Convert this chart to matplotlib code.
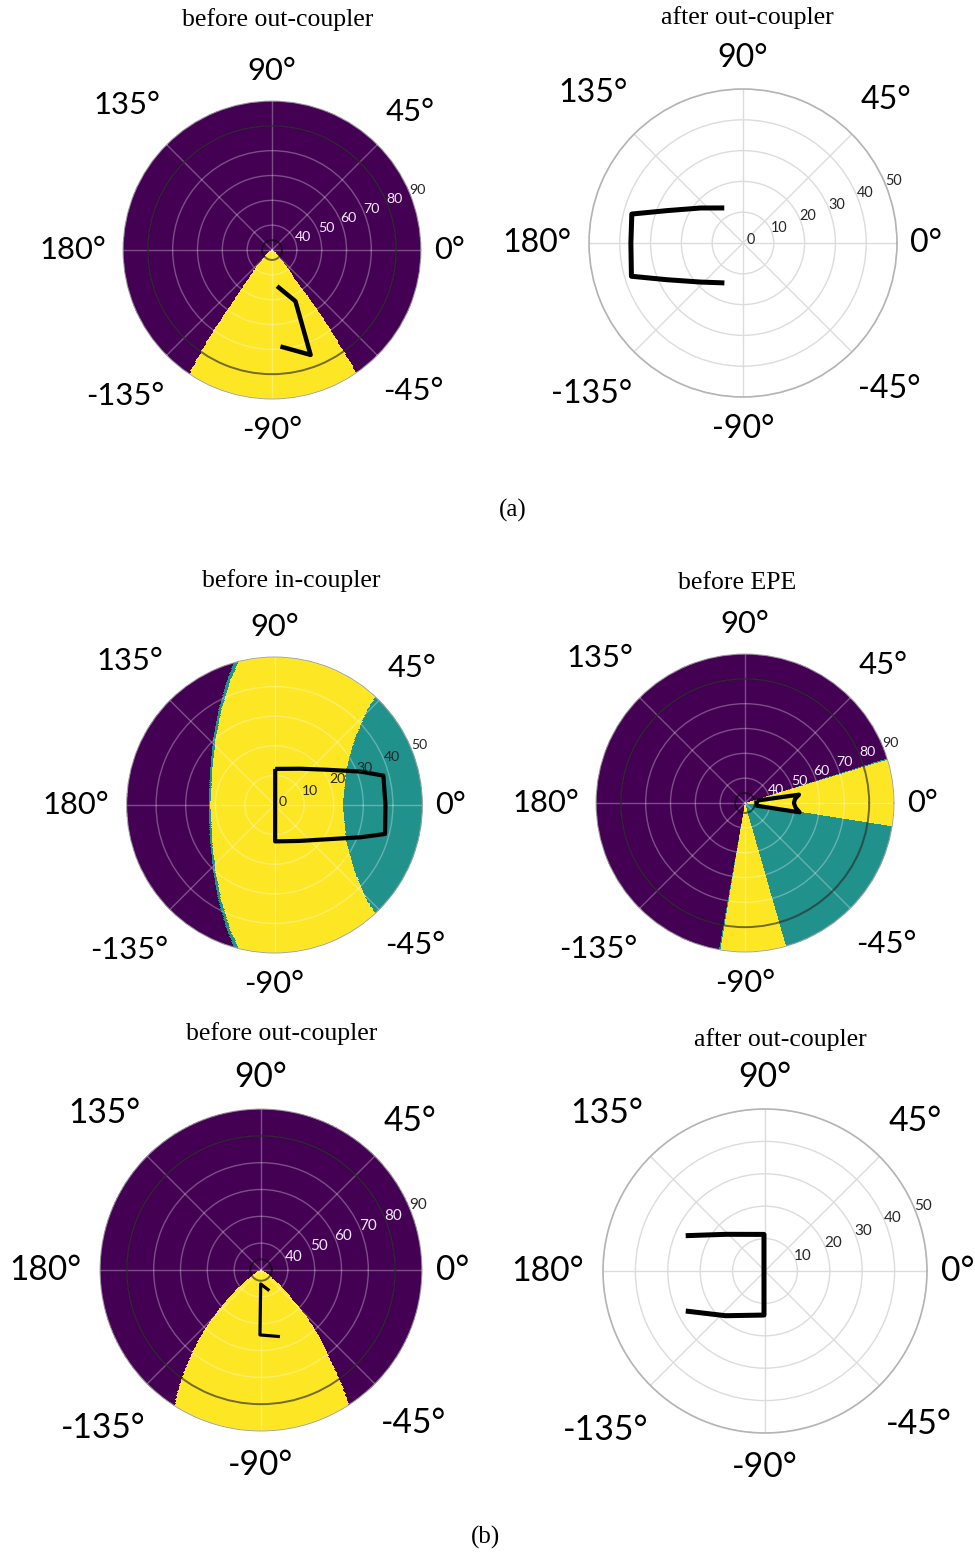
import numpy as np
import matplotlib
matplotlib.use("Agg")
from matplotlib import pyplot as plt
from matplotlib import transforms

W, H = 975, 1553

# azimuth labels round every dial
dial_angles = [0, 45, 90, 135, 180, -135, -90, -45]
dial_labels = ["0°", "45°", "90°", "135°", "180°", "-135°", "-90°", "-45°"]

# viridis codes: 0 purple, 1 teal, 2 yellow
# (a) before out-coupler: yellow wedge edges (deg) vs polar angle
a_before_r = [30, 35, 45, 58, 73, 90]
a_before_left = [-150, -135, -129, -126.7, -125.6, -123.6]
a_before_right = [-30, -45, -51.5, -52.5, -54, -55.5]
a_before_fov_t = [-82, -65.4, -69.8, -85]
a_before_fov_r = [44.7, 52.7, 75.0, 69.0]

# (a) after out-coupler
a_after_fov_t = [118.1, 140.6, 156.9, 165.4, 180, -163.4, -154.2, -137.6, -115]
a_after_fov_r = [12.9, 17.9, 26.8, 37.3, 36.4, 37.8, 27.4, 18.8, 14.3]

# (b) before in-coupler: region edges as x (deg) at height y (deg) on the dial
b_in_y = [-52, -42, -32, -22, -12, 0, 12, 22, 32, 42, 52]
b_in_purple_x = [-12.0, -16.2, -19.0, -20.8, -21.8, -22.3, -21.8, -20.8, -19.0, -16.2, -12.0]
b_in_strip_x = [-10.6, -15.0, -18.1, -20.0, -21.1, -21.6, -21.1, -20.0, -18.1, -15.0, -10.6]
b_in_teal_x = [44.5, 37.5, 31.2, 27.0, 24.3, 23.1, 24.3, 27.0, 31.2, 37.5, 44.5]
b_in_fov_t = [88.9, 54.8, 34.0, 21.3, 15.1, 0, -14.7, -20.7, -33.3, -54.5, -89, 88.9]
b_in_fov_r = [12.2, 15.0, 21.3, 31.1, 38.1, 37.5, 38.6, 30.9, 21.1, 14.9, 12.3, 12.2]

# (b) before EPE: wedge edges (deg) and the code between them
b_epe_edges = [-100, -99.5, -74, -9, 17, 17.5]
b_epe_codes = [0, 1, 2, 1, 2, 1, 0]
b_epe_fov_t = [11.3, 8.8, 4.5, 0, -5, -9.7, -12.9, 11.3]
b_epe_fov_r = [34.8, 52.0, 50.2, 49.7, 50.4, 52.3, 34.8, 34.8]

# (b) before out-coupler
c_before_r = [30, 35, 46, 59, 72, 90]
c_before_left = [-160, -145, -138.8, -133.8, -129, -122.5]
c_before_right = [-20, -35, -42.9, -47.3, -52.2, -56.8]
c_before_fov_t = [-68, -91.4, -90.9, -74.1]
c_before_fov_r = [38.3, 35.2, 54.2, 55.8]

# (b) after out-coupler
c_after_fov_t = [156, 137, 91.6, -91.3, -131.4, -153.2]
c_after_fov_r = [26.8, 16.6, 11.3, 13.6, 18.4, 27.4]

label_dist = [1.19, 1.31, 1.20, 1.38, 1.34, 1.39, 1.21, 1.34]
SANS = ["Lato", "DejaVu Sans"]
SERIF = ["Liberation Serif", "DejaVu Serif"]

fig = plt.figure(figsize=(W / 100, H / 100), dpi=100)


def cell_centres(rmin, rmax):
    t = np.linspace(-180, 180, 721)
    r = np.linspace(rmin, rmax, 241)
    tc = (t[:-1] + t[1:]) / 2
    rc = (r[:-1] + r[1:]) / 2
    TC, RC = np.meshgrid(tc, rc)
    T, R = np.meshgrid(np.deg2rad(t), r)
    return T, R, TC, RC


def wedge_map(rmin, rmax, rr, left, right):
    T, R, TC, RC = cell_centres(rmin, rmax)
    lo = np.interp(RC, rr, left)
    hi = np.interp(RC, rr, right)
    Z = np.where((TC > lo) & (TC < hi), 2, 0)
    return T, R, Z


def in_coupler_map():
    T, R, TC, RC = cell_centres(0, 50)
    x = RC * np.cos(np.deg2rad(TC))
    y = RC * np.sin(np.deg2rad(TC))
    Z = np.full(TC.shape, 2)
    Z[x < np.interp(y, b_in_y, b_in_strip_x)] = 1
    Z[x < np.interp(y, b_in_y, b_in_purple_x)] = 0
    Z[x > np.interp(y, b_in_y, b_in_teal_x)] = 1
    return T, R, Z


def epe_map():
    T, R, TC, RC = cell_centres(30, 90)
    Z = np.array(b_epe_codes)[np.digitize(TC, b_epe_edges)]
    return T, R, Z


def dial(cx, cy, rad, rmin, rmax, rticks, title, title_xy, mesh=None,
         fov=None, lw=3.0):
    ax = fig.add_axes([(cx - rad) / W, 1 - (cy + rad) / H, 2 * rad / W, 2 * rad / H],
                      projection="polar")
    ax.set_ylim(rmin, rmax)
    ax.set_xticks(np.deg2rad(np.arange(0, 360, 45)))
    ax.set_xticklabels([])
    ax.set_yticks(rticks)
    ax.set_yticklabels([])
    ax.tick_params(length=0)
    if mesh is not None:
        T, R, Z = mesh
        ax.pcolormesh(T, R, Z, cmap="viridis", vmin=0, vmax=2, shading="flat",
                      antialiased=False, zorder=0.5)
        ax.grid(True, color="white", alpha=0.3, lw=1.0)
        ax.spines["polar"].set_color("#9a9a9a")
        ax.spines["polar"].set_linewidth(0.6)
    else:
        ax.grid(True, color="#dcdcdc", lw=1.0)
        ax.spines["polar"].set_color("#b4b4b4")
        ax.spines["polar"].set_linewidth(1.2)
    if mesh is not None and rmin == 30:
        for ring in (34, 80):
            ax.axhline(ring, color="black", alpha=0.55, lw=1.4, zorder=1.8)

    # radial labels along 22.5 deg
    off = transforms.offset_copy(ax.transData, fig=fig, x=8, y=3, units="dots")
    for rv in rticks:
        if mesh is not None and rmin == 30 and rv < rmax:
            col = "#f2ecf7"
        else:
            col = "#262626"
        ax.text(np.deg2rad(22.5), rv, str(rv), transform=off, ha="center",
                va="center", fontsize=0.068 * rad, color=col, family=SANS,
                zorder=3)

    fs = 0.15 * rad
    for a, lab, f in zip(dial_angles, dial_labels, label_dist):
        t = np.deg2rad(a)
        ax.text(0.5 + 0.5 * f * np.cos(t), 0.5 + 0.5 * f * np.sin(t), lab,
                transform=ax.transAxes, ha="center", va="center", fontsize=fs,
                family=SANS, color="black")

    if fov is not None:
        ax.plot(np.deg2rad(fov[0]), fov[1], color="black", lw=lw,
                solid_joinstyle="round", solid_capstyle="butt", zorder=2.5)

    fig.text(title_xy[0] / W, 1 - title_xy[1] / H, title, ha="center", va="center",
             fontsize=18.5, family=SERIF)
    return ax


dial(272, 250, 149, 30, 90, [40, 50, 60, 70, 80, 90], "before out-coupler", (278, 20),
     mesh=wedge_map(30, 90, a_before_r, a_before_left, a_before_right),
     fov=(a_before_fov_t, a_before_fov_r), lw=3.2)
dial(743, 243, 154, 0, 50, [0, 10, 20, 30, 40, 50], "after out-coupler", (747, 18),
     fov=(a_after_fov_t, a_after_fov_r), lw=3.6)
dial(274.5, 805, 148, 0, 50, [0, 10, 20, 30, 40, 50], "before in-coupler", (291, 581),
     mesh=in_coupler_map(), fov=(b_in_fov_t, b_in_fov_r), lw=3.0)
dial(745, 803, 149, 30, 90, [40, 50, 60, 70, 80, 90], "before EPE", (737, 583),
     mesh=epe_map(), fov=(b_epe_fov_t, b_epe_fov_r), lw=3.0)
dial(261, 1270, 161, 30, 90, [40, 50, 60, 70, 80, 90], "before out-coupler", (282, 1034),
     mesh=wedge_map(30, 90, c_before_r, c_before_left, c_before_right),
     fov=(c_before_fov_t, c_before_fov_r), lw=2.3)
dial(765, 1271, 162, 0, 50, [10, 20, 30, 40, 50], "after out-coupler", (780, 1040),
     fov=(c_after_fov_t, c_after_fov_r), lw=3.6)

fig.text(513 / W, 1 - 510 / H, "(a)", ha="center", va="center", fontsize=18, family=SERIF)
fig.text(485 / W, 1 - 1537 / H, "(b)", ha="center", va="center", fontsize=18, family=SERIF)

fig.savefig("out.png", dpi=100, facecolor="white")
